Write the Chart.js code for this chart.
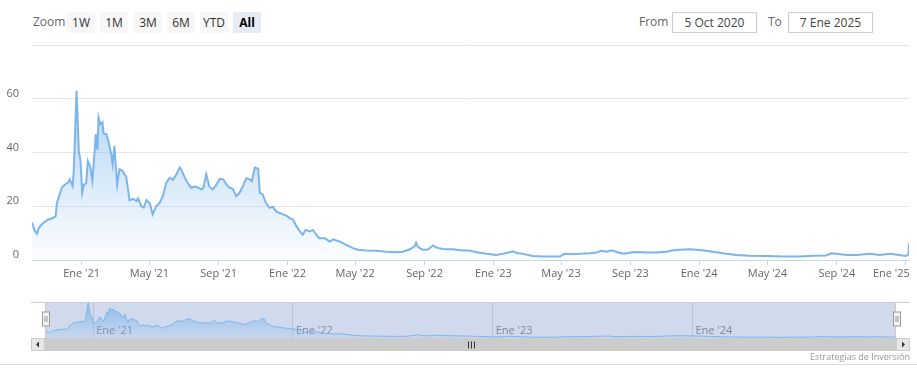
<!DOCTYPE html>
<html>
<head>
<meta charset="utf-8">
<script src="https://cdn.jsdelivr.net/npm/chart.js@4.4.1/dist/chart.umd.min.js"></script>
<style>
  html, body { margin: 0; padding: 0; background: #fff; }
  body { width: 917px; height: 389px; position: relative; overflow: hidden; font-family: "Open Sans", sans-serif; }
  .lbl { position: absolute; top: 14px; font-size: 12px; line-height: 16px; color: #666; }
  .btn { position: absolute; top: 12px; width: 28px; height: 21px; line-height: 21px; text-align: center;
         font-size: 12px; color: #333; background: #f7f7f7; }
  .btn.on { background: #e6ebf5; color: #000; font-weight: bold; }
  .box { position: absolute; top: 12px; width: 85px; height: 21px; box-sizing: border-box; border: 1px solid #ccc;
         font-size: 12px; line-height: 19px; text-align: center; color: #444; }
  #main { position: absolute; left: 0; top: 0; }
  #nav { position: absolute; left: 0; top: 290px; }
  #credits { position: absolute; right: 7px; top: 350px; font-size: 9px; line-height: 14px; color: #999; }
  #foot { position: absolute; left: 0; top: 364px; width: 917px; height: 1px; background: #ddd; }
</style>
</head>
<body>
<div id="toolbar"></div>
<canvas id="main" width="917" height="290"></canvas>
<canvas id="nav" width="917" height="70"></canvas>
<div id="credits">Estrategias de Inversión</div>
<div id="foot"></div>
<script>
/* ---------- datos ---------- */
const dates = [
  '2020-10-05','2020-10-10','2020-10-14','2020-10-17','2020-10-24','2020-11-02','2020-11-11','2020-11-16','2020-11-18','2020-11-23',
  '2020-11-27','2020-12-02','2020-12-08','2020-12-11','2020-12-16','2020-12-18','2020-12-23','2020-12-27','2020-12-30','2021-01-02',
  '2021-01-05','2021-01-09','2021-01-12','2021-01-16','2021-01-20','2021-01-24','2021-01-26','2021-01-29','2021-01-31','2021-02-03',
  '2021-02-07','2021-02-09','2021-02-14','2021-02-18','2021-02-23','2021-02-25','2021-02-28','2021-03-05','2021-03-09','2021-03-15',
  '2021-03-18','2021-03-21','2021-03-27','2021-04-02','2021-04-08','2021-04-11','2021-04-17','2021-04-21','2021-04-26','2021-05-02',
  '2021-05-07','2021-05-13','2021-05-19','2021-05-25','2021-05-31','2021-06-06','2021-06-12','2021-06-18','2021-06-24','2021-06-27',
  '2021-07-03','2021-07-08','2021-07-14','2021-07-20','2021-07-26','2021-08-01','2021-08-05','2021-08-10','2021-08-15','2021-08-21',
  '2021-08-27','2021-09-03','2021-09-09','2021-09-15','2021-09-20','2021-09-26','2021-10-02','2021-10-08','2021-10-14','2021-10-20',
  '2021-10-26','2021-10-30','2021-11-04','2021-11-10','2021-11-13','2021-11-18','2021-11-24','2021-11-30','2021-12-06','2021-12-12',
  '2021-12-18','2021-12-24','2021-12-30','2022-01-05','2022-01-11','2022-01-17','2022-01-23','2022-01-28','2022-02-02','2022-02-09',
  '2022-02-15','2022-02-21','2022-02-26','2022-03-08','2022-03-17','2022-03-23','2022-04-03','2022-04-15','2022-04-27','2022-05-06',
  '2022-05-21','2022-06-08','2022-06-25','2022-07-13','2022-07-25','2022-08-06','2022-08-14','2022-08-17','2022-08-20','2022-08-29',
  '2022-09-07','2022-09-16','2022-09-22','2022-10-04','2022-10-21','2022-11-08','2022-11-20','2022-12-02','2022-12-20','2023-01-06',
  '2023-01-18','2023-01-30','2023-02-05','2023-02-11','2023-02-22','2023-03-12','2023-03-30','2023-04-17','2023-04-29','2023-05-07',
  '2023-05-16','2023-06-03','2023-06-21','2023-07-03','2023-07-11','2023-07-20','2023-07-31','2023-08-10','2023-08-20','2023-09-05',
  '2023-09-14','2023-09-29','2023-10-17','2023-11-04','2023-11-13','2023-11-27','2023-12-15','2023-12-27','2024-01-14','2024-01-31',
  '2024-02-18','2024-03-07','2024-03-30','2024-04-29','2024-05-28','2024-06-27','2024-07-21','2024-08-13','2024-08-22','2024-08-31',
  '2024-09-18','2024-10-06','2024-10-29','2024-11-16','2024-12-04','2024-12-21','2025-01-01','2025-01-06','2025-01-07'
];
const values = [
  14.0,10.8, 9.8,12.0,13.6,15.0,15.6,16.3,21.0,24.4,
  27.0,28.0,28.8,30.0,27.5,33.0,63.0,40.5,37.0,25.0,
  28.0,28.5,36.8,35.0,29.5,40.5,46.8,41.0,53.0,50.5,
  51.3,47.0,46.8,43.7,38.8,35.6,42.5,28.0,33.8,33.1,
  31.9,31.0,22.2,22.8,21.9,23.0,20.0,19.5,22.3,21.0,
  17.0,20.0,21.2,23.7,28.7,30.6,29.8,31.9,34.4,33.5,
  30.6,28.7,26.9,27.3,27.0,26.2,27.0,31.9,27.5,26.2,
  27.7,30.2,30.0,28.1,26.9,26.5,23.7,25.0,27.5,30.4,
  30.0,29.3,34.4,34.0,25.0,24.4,21.2,19.4,19.8,18.1,
  17.5,17.0,16.5,15.6,15.0,12.5,10.6, 9.4,11.2,10.6,
  11.2, 9.4, 8.1, 8.1, 6.9, 7.7, 6.9, 5.6, 4.4, 3.8,
   3.5, 3.4, 3.1, 2.9, 3.1, 4.0, 5.0, 6.5, 4.9, 3.8,
   3.9, 5.4, 4.6, 4.1, 4.0, 3.5, 3.5, 2.9, 2.3, 1.9,
   2.3, 2.9, 3.2, 2.6, 2.3, 1.5, 1.3, 1.3, 1.3, 2.3,
   2.2, 2.3, 2.5, 2.8, 3.4, 3.1, 3.6, 2.8, 2.3, 2.9,
   3.0, 2.8, 2.8, 3.1, 3.5, 3.8, 4.0, 3.8, 3.4, 2.9,
   2.3, 1.9, 1.6, 1.5, 1.3, 1.3, 1.6, 1.7, 2.5, 2.3,
   1.9, 1.9, 2.3, 1.9, 2.3, 1.9, 1.5, 2.0, 6.2
];
const tickDates = ['2021-01-01','2021-05-01','2021-09-01','2022-01-01','2022-05-01','2022-09-01','2023-01-01',
                   '2023-05-01','2023-09-01','2024-01-01','2024-05-01','2024-09-01','2025-01-01'];
const tickLabels = ["Ene '21","May '21","Sep '21","Ene '22","May '22","Sep '22","Ene '23",
                    "May '23","Sep '23","Ene '24","May '24","Sep '24","Ene '25"];
const navTickDates = ['2021-01-01','2022-01-01','2023-01-01','2024-01-01'];
const navTickLabels = ["Ene '21","Ene '22","Ene '23","Ene '24"];
const yTicks = [0, 20, 40, 60, 80];
const rangeButtons = ['1W','1M','3M','6M','YTD','All'];
const rangeFrom = '5 Oct 2020';
const rangeTo = '7 Ene 2025';
const startDate = '2020-10-05';
const endDate = '2025-01-07';

const toDay = s => Date.parse(s + 'T00:00:00Z') / 864e5;
const FONT = { family: 'Open Sans', size: 11 };

/* ---------- barra superior ---------- */
function buildToolbar() {
  const tb = document.getElementById('toolbar');
  let html = '<div class="lbl" style="left:33px">Zoom</div>';
  const btnLeft = [67, 100, 134, 167, 200, 233];
  rangeButtons.forEach((b, i) => {
    html += '<div class="btn' + (b === 'All' ? ' on' : '') + '" style="left:' + btnLeft[i] + 'px">' + b + '</div>';
  });
  html += '<div class="lbl" style="left:639px">From</div>' +
          '<div class="box" style="left:672px">' + rangeFrom + '</div>' +
          '<div class="lbl" style="left:768px">To</div>' +
          '<div class="box" style="left:788px">' + rangeTo + '</div>';
  tb.innerHTML = html;
}
buildToolbar();

const pts = dates.map((d, i) => ({ x: toDay(d), y: values[i] }));

function areaGradient(c, top, bottom) {
  const a = c.chart.chartArea;
  if (!a) return 'rgba(124,181,236,0.3)';
  const g = c.chart.ctx.createLinearGradient(0, a.top, 0, a.bottom);
  g.addColorStop(0, 'rgba(124,181,236,' + top + ')');
  g.addColorStop(1, 'rgba(124,181,236,' + bottom + ')');
  return g;
}

/* ---------- grafico principal ---------- */
new Chart(document.getElementById('main'), {
  type: 'line',
  data: { datasets: [{
    data: pts, borderColor: '#7cb5ec', borderWidth: 2, pointRadius: 0, tension: 0, fill: 'origin',
    backgroundColor: c => areaGradient(c, 0.75, 0.02)
  }]},
  options: {
    responsive: false, animation: false,
    layout: { padding: { top: 45, right: 8, left: 0, bottom: 0 } },
    plugins: { legend: { display: false }, tooltip: { enabled: false } },
    scales: {
      x: {
        type: 'linear', min: toDay(startDate), max: toDay(endDate),
        afterBuildTicks: s => { s.ticks = tickDates.map(d => ({ value: toDay(d) })); },
        afterFit: s => { s.height = 30; s.paddingLeft = 0; s.paddingRight = 0; },
        grid: { drawOnChartArea: false, drawTicks: true, tickLength: 5, color: '#ccd6eb' },
        border: { display: true, color: '#ccd6eb' },
        ticks: { autoSkip: false, maxRotation: 0, padding: 2, color: '#666', font: FONT,
          callback: (v, i) => i === tickLabels.length - 1 ? tickLabels[i] + ' '.repeat(10) : tickLabels[i] }
      },
      y: {
        min: 0, max: 80,
        afterBuildTicks: s => { s.ticks = yTicks.map(v => ({ value: v })); },
        afterFit: s => { s.width = 32; s.paddingTop = 0; s.paddingBottom = 0; },
        grid: { drawTicks: false, color: c => (c.tick && c.tick.value === 0) ? 'rgba(0,0,0,0)' : '#e6e6e6' },
        border: { display: false },
        ticks: { padding: 13, labelOffset: -5, color: '#666', font: FONT,
          callback: v => v === 80 ? '' : v }
      }
    }
  }
});

/* ---------- navegador ---------- */
const navDecor = {
  id: 'navDecor',
  beforeDatasetsDraw(chart) {
    const { ctx, chartArea: a } = chart;
    ctx.save();
    ctx.fillStyle = 'rgba(102,133,194,0.3)';
    ctx.fillRect(a.left, a.top, a.right - a.left, a.bottom - a.top);
    ctx.restore();
  },
  afterDraw(chart) {
    const { ctx, chartArea: a } = chart;
    const L = a.left - 14, R = a.right + 14;
    ctx.save();
    // contorno
    ctx.strokeStyle = '#cccccc'; ctx.lineWidth = 1;
    ctx.beginPath();
    ctx.moveTo(L, a.top + 0.5); ctx.lineTo(R, a.top + 0.5);
    ctx.moveTo(a.left + 0.5, a.top); ctx.lineTo(a.left + 0.5, a.bottom);
    ctx.moveTo(a.right - 0.5, a.top); ctx.lineTo(a.right - 0.5, a.bottom);
    ctx.stroke();
    // barra de desplazamiento
    const sy = a.bottom, sh = 13;
    ctx.fillStyle = '#f2f2f2'; ctx.fillRect(L, sy, R - L, sh);
    ctx.fillStyle = '#cccccc'; ctx.fillRect(a.left, sy, a.right - a.left, sh);
    ctx.fillStyle = '#e6e6e6';
    ctx.fillRect(L, sy, 14, sh); ctx.fillRect(a.right, sy, 14, sh);
    ctx.strokeStyle = '#cccccc';
    ctx.strokeRect(L + 0.5, sy + 0.5, 13, sh - 1); ctx.strokeRect(a.right + 0.5, sy + 0.5, 13, sh - 1);
    ctx.fillStyle = '#333';
    const my = sy + sh / 2;
    ctx.beginPath(); ctx.moveTo(L + 5, my); ctx.lineTo(L + 8, my - 3); ctx.lineTo(L + 8, my + 3); ctx.fill();
    ctx.beginPath(); ctx.moveTo(R - 5, my); ctx.lineTo(R - 8, my - 3); ctx.lineTo(R - 8, my + 3); ctx.fill();
    const cx = Math.round((a.left + a.right) / 2);
    ctx.strokeStyle = '#333';
    ctx.beginPath();
    [-3, 0, 3].forEach(o => { ctx.moveTo(cx + o + 0.5, my - 3); ctx.lineTo(cx + o + 0.5, my + 4); });
    ctx.stroke();
    // tiradores
    const hy = a.top + 10;
    [a.left, a.right].forEach(x => {
      const hx = Math.round(x - 3.5) + 0.5;
      ctx.fillStyle = '#f2f2f2'; ctx.strokeStyle = '#999';
      ctx.fillRect(hx, hy, 7, 14); ctx.strokeRect(hx, hy, 7, 14);
      ctx.beginPath();
      ctx.moveTo(hx + 2.5, hy + 4); ctx.lineTo(hx + 2.5, hy + 10);
      ctx.moveTo(hx + 4.5, hy + 4); ctx.lineTo(hx + 4.5, hy + 10);
      ctx.stroke();
    });
    ctx.restore();
  }
};

new Chart(document.getElementById('nav'), {
  type: 'line',
  data: { datasets: [{
    data: pts, borderColor: '#7cb5ec', borderWidth: 1, pointRadius: 0, tension: 0, fill: 'origin',
    backgroundColor: c => areaGradient(c, 0.8, 0.1)
  }]},
  options: {
    responsive: false, animation: false,
    layout: { padding: { top: 12, right: 21, left: 45, bottom: 0 } },
    plugins: { legend: { display: false }, tooltip: { enabled: false } },
    scales: {
      x: {
        type: 'linear', min: toDay(startDate), max: toDay(endDate),
        afterBuildTicks: s => { s.ticks = navTickDates.map(d => ({ value: toDay(d) })); },
        afterFit: s => { s.height = 22; s.paddingLeft = 0; s.paddingRight = 0; },
        grid: { drawTicks: false, color: '#e0e0e0' },
        border: { display: false },
        ticks: { autoSkip: false, maxRotation: 0, align: 'start', labelOffset: 3, mirror: true, padding: 1,
          color: '#8a8a8a', font: FONT, callback: (v, i) => navTickLabels[i] }
      },
      y: { display: false, min: 0, max: 64 }
    }
  },
  plugins: [navDecor]
});
</script>
</body>
</html>
